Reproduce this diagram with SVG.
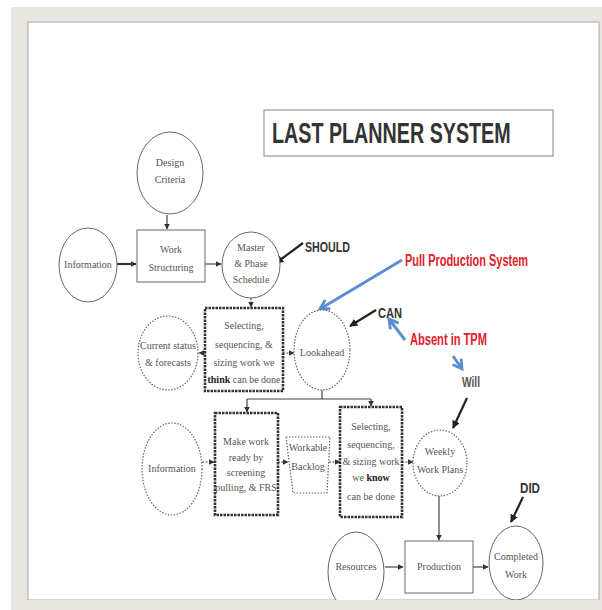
<svg xmlns="http://www.w3.org/2000/svg" width="602" height="610" viewBox="0 0 602 610">
<defs>
<style>
.n{font-family:"Liberation Serif","Times New Roman",serif;font-size:10px;fill:#555;text-anchor:middle}
.nb{font-weight:bold;fill:#222}
.sol{fill:#fff;stroke:#666;stroke-width:1}
.dot{fill:#fff;stroke:#666;stroke-width:1.2;stroke-dasharray:1.5 1.5}
.thk{fill:#fff;stroke:#333;stroke-width:2.6;stroke-dasharray:2.5 1}
.c{fill:none;stroke:#444;stroke-width:1.2}
.cd{fill:none;stroke:#444;stroke-width:1.2;stroke-dasharray:2 1.5}
.k{fill:none;stroke:#222;stroke-width:2.2}
.b{fill:none;stroke:#5b8fd1;stroke-width:3}
.lbl{font-family:"Liberation Sans",Arial,sans-serif;font-weight:bold;font-size:15px;fill:#333}
.red{font-family:"Liberation Sans",Arial,sans-serif;font-weight:bold;font-size:16px;fill:#e0202a}
</style>
<marker id="ah" viewBox="0 0 10 10" refX="9" refY="5" markerWidth="6" markerHeight="6" markerUnits="userSpaceOnUse" orient="auto">
<path d="M0,0 L10,5 L0,10 z" fill="#333"/>
</marker>
<marker id="ak" viewBox="0 0 10 10" refX="9" refY="5" markerWidth="8" markerHeight="8" markerUnits="userSpaceOnUse" orient="auto">
<path d="M0,0 L10,5 L0,10 z" fill="#222"/>
</marker>
<marker id="ab" viewBox="0 0 10 10" refX="8" refY="5" markerWidth="13" markerHeight="13" markerUnits="userSpaceOnUse" orient="auto">
<path d="M1,1 L8,5 L1,9" fill="none" stroke="#5b8fd1" stroke-width="2.2"/>
</marker>
</defs>

<g id="frame">
<rect x="0" y="0" width="602" height="610" fill="#fff"/>
<rect x="11" y="7" width="591" height="603" fill="#e8e6df"/>
<rect x="28" y="22" width="571" height="578" fill="#fff" stroke="#a8a8a8" stroke-width="1"/>
</g>

<g id="title">
<rect x="264" y="110" width="289" height="46" fill="#fff" stroke="#999" stroke-width="1.2"/>
<text transform="translate(272,143) scale(0.68,1)" font-family="'Liberation Sans',Arial,sans-serif" font-weight="bold" font-size="29" fill="#333">LAST PLANNER SYSTEM</text>
</g>

<g id="connectors">
<line class="c" x1="167" y1="215" x2="167" y2="229" marker-end="url(#ah)"/>
<line x1="117" y1="264" x2="136" y2="264" stroke="#333" stroke-width="2.2" marker-end="url(#ah)"/>
<line class="c" x1="205" y1="264" x2="221" y2="264" marker-end="url(#ah)"/>
<line class="cd" x1="251" y1="298" x2="251" y2="307" marker-end="url(#ah)"/>
<line class="cd" x1="205" y1="353" x2="199" y2="353" marker-end="url(#ah)"/>
<line class="cd" x1="283" y1="353" x2="294" y2="353" marker-end="url(#ah)"/>
<polyline class="c" points="322,390 322,399 247,399"/>
<line class="c" x1="322" y1="399" x2="371" y2="399"/>
<line class="c" x1="247" y1="399" x2="247" y2="412" marker-end="url(#ah)"/>
<line class="c" x1="371" y1="399" x2="371" y2="406" marker-end="url(#ah)"/>
<line class="cd" x1="202" y1="462" x2="214" y2="462" marker-end="url(#ah)"/>
<line class="cd" x1="278" y1="462" x2="288" y2="462" marker-end="url(#ah)"/>
<line class="cd" x1="329" y1="462" x2="340" y2="462" marker-end="url(#ah)"/>
<line class="cd" x1="402" y1="462" x2="413" y2="462" marker-end="url(#ah)"/>
<line class="c" x1="439" y1="495" x2="439" y2="540" marker-end="url(#ah)"/>
<line class="c" x1="385" y1="567" x2="403" y2="567" marker-end="url(#ah)"/>
<line class="c" x1="473" y1="567" x2="488" y2="567" marker-end="url(#ah)"/>
<line class="k" x1="303" y1="243" x2="276" y2="263" marker-end="url(#ak)"/>
<line class="k" x1="376" y1="310" x2="350" y2="326" marker-end="url(#ak)"/>
<line class="k" x1="467" y1="398" x2="453" y2="428" marker-end="url(#ak)"/>
<line class="k" x1="523" y1="497" x2="511" y2="522" marker-end="url(#ak)"/>
<line class="b" x1="402" y1="260" x2="320" y2="309" marker-end="url(#ab)"/>
<line class="b" x1="405" y1="340" x2="389" y2="319" marker-end="url(#ab)"/>
<line class="b" x1="453" y1="356" x2="462" y2="369" marker-end="url(#ab)"/>
</g>

<g id="design-criteria">
<ellipse class="sol" cx="170" cy="173" rx="33" ry="41"/>
<text class="n" x="170" y="166">Design</text>
<text class="n" x="170" y="183">Criteria</text>
</g>
<g id="information-1">
<ellipse class="sol" cx="88" cy="265" rx="29" ry="37"/>
<text class="n" x="88" y="268">Information</text>
</g>
<g id="work-structuring">
<rect class="sol" x="137" y="230" width="68" height="52"/>
<text class="n" x="171" y="253">Work</text>
<text class="n" x="171" y="271">Structuring</text>
</g>
<g id="master-phase-schedule">
<ellipse class="sol" cx="251" cy="265" rx="29" ry="33"/>
<text class="n" x="251" y="251">Master</text>
<text class="n" x="251" y="267">&amp; Phase</text>
<text class="n" x="251" y="283">Schedule</text>
</g>
<g id="current-status">
<ellipse class="dot" cx="168" cy="353" rx="30" ry="37"/>
<text class="n" x="168" y="349">Current status</text>
<text class="n" x="168" y="366">&amp; forecasts</text>
</g>
<g id="selecting-think">
<rect class="thk" x="205" y="308" width="78" height="83"/>
<text class="n" x="244" y="329">Selecting,</text>
<text class="n" x="244" y="348">sequencing, &amp;</text>
<text class="n" x="244" y="366">sizing work we</text>
<text class="n" x="244" y="383"><tspan class="nb">think</tspan> can be done</text>
</g>
<g id="lookahead">
<ellipse class="dot" cx="322" cy="350" rx="28" ry="40"/>
<text class="n" x="322" y="356">Lookahead</text>
</g>
<g id="information-2">
<ellipse class="dot" cx="172" cy="469" rx="30" ry="46"/>
<text class="n" x="172" y="472">Information</text>
</g>
<g id="make-work-ready">
<rect class="thk" x="215" y="413" width="63" height="102"/>
<text class="n" x="246" y="445">Make work</text>
<text class="n" x="246" y="461">ready by</text>
<text class="n" x="246" y="476">screening</text>
<text class="n" x="246" y="491">pulling, &amp; FRS</text>
</g>
<g id="workable-backlog">
<polygon class="dot" points="286,437 330,437 327,493 293,493"/>
<text class="n" x="308" y="451">Workable</text>
<text class="n" x="308" y="470">Backlog</text>
</g>
<g id="selecting-know">
<rect class="thk" x="340" y="407" width="62" height="110"/>
<text class="n" x="371" y="430">Selecting,</text>
<text class="n" x="371" y="448">sequencing,</text>
<text class="n" x="371" y="465">&amp; sizing work</text>
<text class="n" x="371" y="481">we <tspan class="nb">know</tspan></text>
<text class="n" x="371" y="500">can be done</text>
</g>
<g id="weekly-work-plans">
<ellipse class="dot" cx="440" cy="463" rx="27" ry="33"/>
<text class="n" x="440" y="455">Weekly</text>
<text class="n" x="440" y="473">Work Plans</text>
</g>
<g id="resources">
<ellipse class="sol" cx="356" cy="572" rx="28" ry="40"/>
<text class="n" x="356" y="570">Resources</text>
</g>
<g id="production">
<rect class="sol" x="405" y="541" width="68" height="52"/>
<text class="n" x="439" y="570">Production</text>
</g>
<g id="completed-work">
<ellipse class="sol" cx="516" cy="563" rx="27" ry="37"/>
<text class="n" x="516" y="560">Completed</text>
<text class="n" x="516" y="578">Work</text>
</g>

<g id="annotations">
<text class="lbl" x="305" y="252" textLength="45" lengthAdjust="spacingAndGlyphs">SHOULD</text>
<text class="red" x="405" y="266" textLength="123" lengthAdjust="spacingAndGlyphs">Pull Production System</text>
<text class="lbl" x="378" y="318" textLength="24" lengthAdjust="spacingAndGlyphs">CAN</text>
<text class="red" x="410" y="345" textLength="77" lengthAdjust="spacingAndGlyphs">Absent in TPM</text>
<text class="lbl" x="462" y="387" textLength="18" lengthAdjust="spacingAndGlyphs" style="fill:#555">Will</text>
<text class="lbl" x="520" y="493" textLength="20" lengthAdjust="spacingAndGlyphs">DID</text>
</g>

<rect id="bottom-band" x="11" y="600" width="591" height="10" fill="#e8e6df"/>
</svg>
